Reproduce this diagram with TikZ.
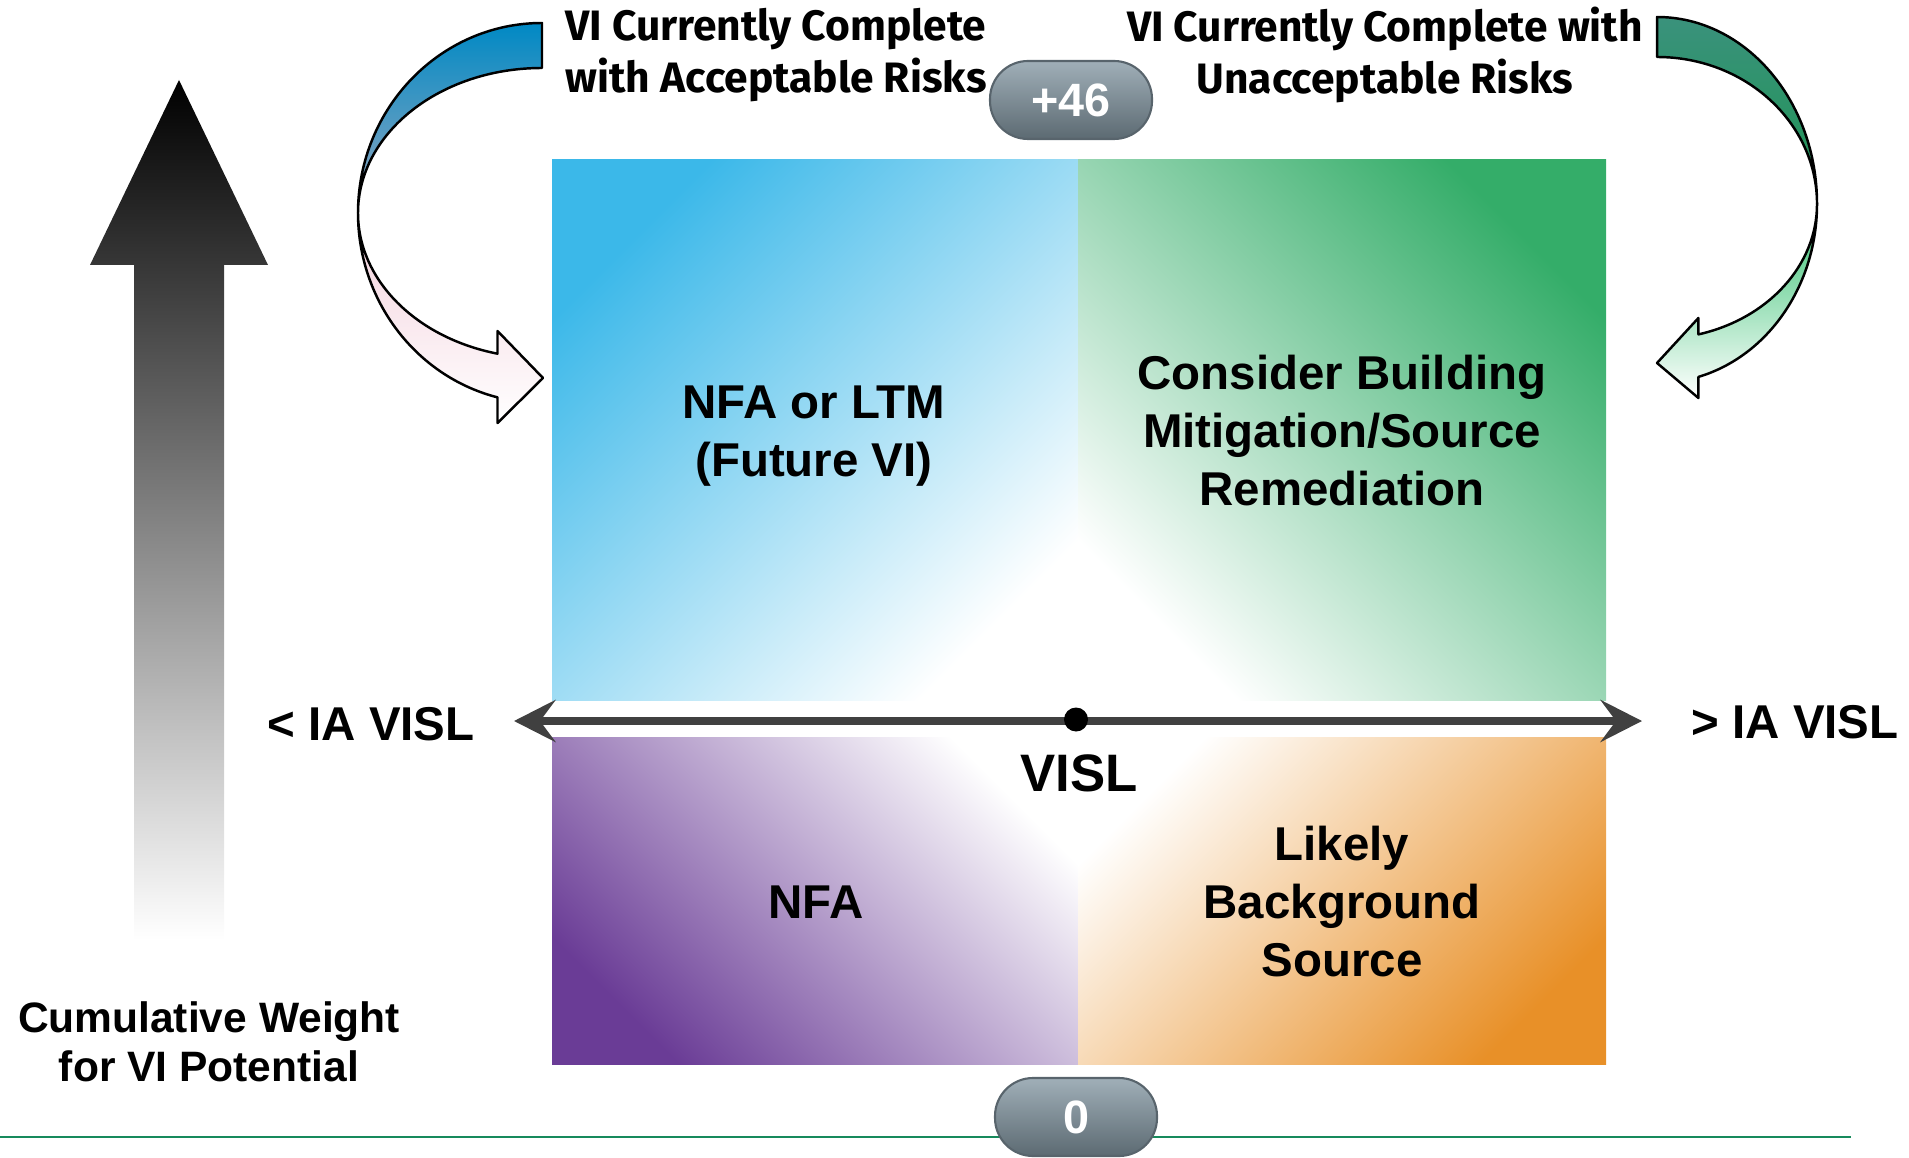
\documentclass[tikz,border=0pt]{standalone}
\usepackage{fontspec}
\setmainfont{Liberation Sans}
\newfontfamily\labelfont{Fira Sans}
\usepackage{tikz}
\usetikzlibrary{arrows.meta}

\definecolor{tlblue}{RGB}{59,184,233}
\definecolor{trgreen}{RGB}{52,173,105}
\definecolor{blpurple}{RGB}{106,60,150}
\definecolor{brorange}{RGB}{232,144,40}
\definecolor{accblue}{RGB}{0,137,196}
\definecolor{accgray}{RGB}{150,168,192}
\definecolor{accpink}{RGB}{243,208,220}
\definecolor{unateal}{RGB}{58,146,124}
\definecolor{unagreen}{RGB}{30,148,82}
\definecolor{unalight}{RGB}{52,192,112}
\definecolor{axisgray}{RGB}{64,64,64}
\definecolor{pilltop}{RGB}{160,175,184}
\definecolor{pillmid}{RGB}{125,142,152}
\definecolor{pillbot}{RGB}{92,106,114}
\definecolor{pilledge}{RGB}{88,100,108}
\definecolor{rulegreen}{RGB}{23,138,92}

\begin{document}
\begin{tikzpicture}[
    quadtext/.style={font=\fontsize{13.5}{16.5}\selectfont\bfseries, align=center, inner sep=0pt},
    toptext/.style={font=\labelfont\fontsize{12.1}{14.8}\selectfont\bfseries, align=center, inner sep=0pt},
    cumtext/.style={font=\fontsize{12.1}{14}\selectfont\bfseries, align=center, inner sep=0pt},
    pill/.style={rounded corners=0.38cm, top color=pilltop, middle color=pillmid, bottom color=pillbot,
        draw=pilledge, line width=0.6pt, minimum width=1.62cm, minimum height=0.78cm, inner sep=0pt,
        text=white, font=\fontsize{13.3}{15}\selectfont\bfseries},
    bentarrow/.style={draw=black, line width=0.7pt, line join=round},
    axisline/.style={draw=axisgray, line width=0.08cm},
    footrule/.style={draw=rulegreen, line width=0.7pt}
]
    \useasboundingbox (0,0) rectangle (19.09,11.57);

    \coordinate (lc) at (5.42, 9.44);
    \coordinate (rc) at (16.57, 9.53);
    \coordinate (axl) at (5.14, 4.36);
    \coordinate (axr) at (16.42, 4.36);
    \coordinate (fl) at (0, 0.20);
    \coordinate (fr) at (18.51, 0.20);

    % quadrants
    \shade[top color=tlblue, bottom color=white, shading angle=45] (5.52,4.57) rectangle (10.78,9.97);
    \shade[top color=trgreen, bottom color=white, shading angle=-45] (10.78,4.57) rectangle (16.06,9.97);
    \shade[top color=white, bottom color=blpurple, shading angle=-45] (5.52,0.93) rectangle (10.78,4.20);
    \shade[top color=white, bottom color=brorange, shading angle=45] (10.78,0.93) rectangle (16.06,4.20);

    % cumulative weight arrow
    \shade[top color=black, bottom color=white] (1.79,10.77) -- (2.68,8.92) -- (2.24,8.92) -- (2.24,2.17)
        -- (1.34,2.17) -- (1.34,8.92) -- (0.90,8.92) -- cycle;

    % curved arrows
    \shadedraw[bentarrow, top color=accblue, bottom color=accgray]
        ([shift={(90:1.84 and 1.90)}]lc) arc[start angle=90, end angle=180, x radius=1.84, y radius=1.90]
        arc[start angle=180, end angle=90, x radius=1.84, y radius=1.45] -- cycle;
    \shadedraw[bentarrow, top color=accpink, bottom color=white]
        ([shift={(180:1.84 and 1.90)}]lc) arc[start angle=180, end angle=256, x radius=1.84, y radius=1.90]
        -- (4.975,7.34) -- (5.43,7.79) -- (4.975,8.26)
        -- ([shift={(256:1.84 and 1.45)}]lc) arc[start angle=256, end angle=180, x radius=1.84, y radius=1.45] -- cycle;
    \shadedraw[bentarrow, top color=unateal, bottom color=unagreen]
        ([shift={(90:1.60 and 1.87)}]rc) arc[start angle=90, end angle=0, x radius=1.60, y radius=1.87]
        arc[start angle=0, end angle=90, x radius=1.60, y radius=1.47] -- cycle;
    \shadedraw[bentarrow, top color=unalight, bottom color=white]
        ([shift={(0:1.60 and 1.79)}]rc) arc[start angle=0, end angle=-75, x radius=1.60, y radius=1.79]
        -- (16.984,7.59) -- (16.57,7.94) -- (16.984,8.39)
        -- ([shift={(-75:1.60 and 1.35)}]rc) arc[start angle=-75, end angle=0, x radius=1.60, y radius=1.35] -- cycle;

    % VISL axis
    \draw[axisline, {Stealth[length=4.15mm, width=4.2mm, inset=1.55mm]}-{Stealth[length=4.15mm, width=4.2mm, inset=1.55mm]}] (axl) -- (axr);
    \node[circle, fill=black, inner sep=0pt, minimum size=0.24cm] (vislpt) at (10.76,4.375) {};

    \draw[footrule] (fl) -- (fr);

    \node[pill] (topval) at (10.71,10.57) {+46};
    \node[pill] (botval) at (10.76,0.40) {0};

    \node[toptext] (acclbl) at (7.76,11.02) {VI Currently Complete\\with Acceptable Risks};
    \node[toptext] (unacclbl) at (13.85,11.02) {VI Currently Complete with\\Unacceptable Risks};
    \node[quadtext] (nfaltm) at (8.14,7.21) {NFA or LTM\\(Future VI)};
    \node[quadtext] (consider) at (13.42,7.26) {Consider Building\\Mitigation/Source\\Remediation};
    \node[quadtext] (nfa) at (8.16,2.55) {NFA};
    \node[quadtext] (likely) at (13.42,2.55) {Likely\\Background\\Source};
    \node[quadtext, font=\fontsize{15}{17}\selectfont\bfseries] (visl) at (10.79,3.84) {VISL};
    \node[quadtext] (ltvisl) at (3.71,4.33) {< IA VISL};
    \node[quadtext] (gtvisl) at (17.95,4.35) {> IA VISL};
    \node[cumtext] (cumlbl) at (2.09,1.15) {Cumulative Weight\\for VI Potential};
\end{tikzpicture}
\end{document}
